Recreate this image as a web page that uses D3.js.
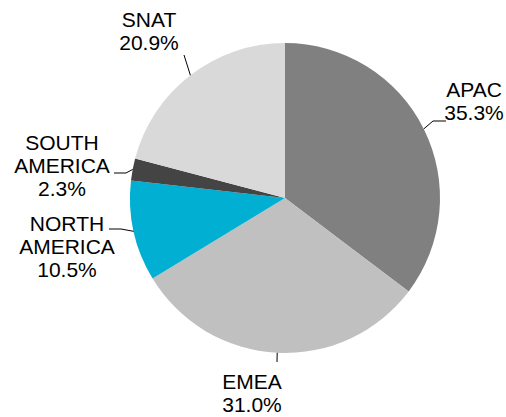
<!DOCTYPE html>
<html>
<head>
<meta charset="utf-8">
<script src="https://cdn.jsdelivr.net/npm/d3@7"></script>
<style>
  html, body { margin: 0; padding: 0; background: #ffffff; }
  svg { display: block; }
  text { font-family: "Liberation Sans", Arial, sans-serif; font-size: 21px; fill: #000; }
</style>
</head>
<body>
<svg id="chart" width="506" height="417"></svg>
<script>
// Regional share, in percent, clockwise from 12 o'clock
const regions = ["APAC", "EMEA", "NORTH AMERICA", "SOUTH AMERICA", "SNAT"];
const shares = [35.3, 31.0, 10.5, 2.3, 20.9];
const labelLines = [["APAC"], ["EMEA"], ["NORTH", "AMERICA"], ["SOUTH", "AMERICA"], ["SNAT"]];
const sliceColors = ["#808080", "#c0c0c0", "#00afd1", "#444444", "#d9d9d9"];

const width = 506, height = 417;
const cx = 285, cy = 198, radius = 155;
const lineHeight = 23;

// Label placement: text anchor point (first baseline) and leader elbow
const labelLayout = {
  "APAC":          { x: 474, y: 97,  elbow: [[433, 121], [446, 121]] },
  "EMEA":          { x: 252, y: 389, elbow: [[277, 362]] },
  "NORTH AMERICA": { x: 67,  y: 231, elbow: [[121, 229], [109, 229]] },
  "SOUTH AMERICA": { x: 62,  y: 150, elbow: [[126, 173], [114, 173]] },
  "SNAT":          { x: 149, y: 27,  elbow: [[184, 55]] }
};

const data = regions.map((r, i) => ({ region: r, value: shares[i], lines: labelLines[i], color: sliceColors[i] }));

const svg = d3.select("#chart");
const g = svg.append("g").attr("transform", `translate(${cx},${cy})`);

const pie = d3.pie().value(d => d.value).sort(null);
const arc = d3.arc().innerRadius(0).outerRadius(radius);
const edge = d3.arc().innerRadius(radius).outerRadius(radius);
const arcs = pie(data);

g.selectAll("path.slice")
  .data(arcs)
  .join("path")
  .attr("class", "slice")
  .attr("d", arc)
  .attr("fill", d => d.data.color);

// Leader lines from the slice edge midpoint to the label
const line = d3.line();
svg.selectAll("path.leader")
  .data(arcs)
  .join("path")
  .attr("class", "leader")
  .attr("fill", "none")
  .attr("stroke", "#000")
  .attr("stroke-width", 1)
  .attr("d", d => {
    const [ex, ey] = edge.centroid(d);
    const pts = [[cx + ex, cy + ey]].concat(labelLayout[d.data.region].elbow);
    return line(pts);
  });

// Labels: name lines followed by the percentage
const labels = svg.selectAll("text.label")
  .data(arcs)
  .join("text")
  .attr("class", "label")
  .attr("text-anchor", "middle");

labels.each(function (d) {
  const pos = labelLayout[d.data.region];
  const rows = d.data.lines.concat([d3.format(".1f")(d.data.value) + "%"]);
  d3.select(this).selectAll("tspan")
    .data(rows)
    .join("tspan")
    .attr("x", pos.x)
    .attr("y", (t, i) => pos.y + i * lineHeight)
    .text(t => t);
});
</script>
</body>
</html>
